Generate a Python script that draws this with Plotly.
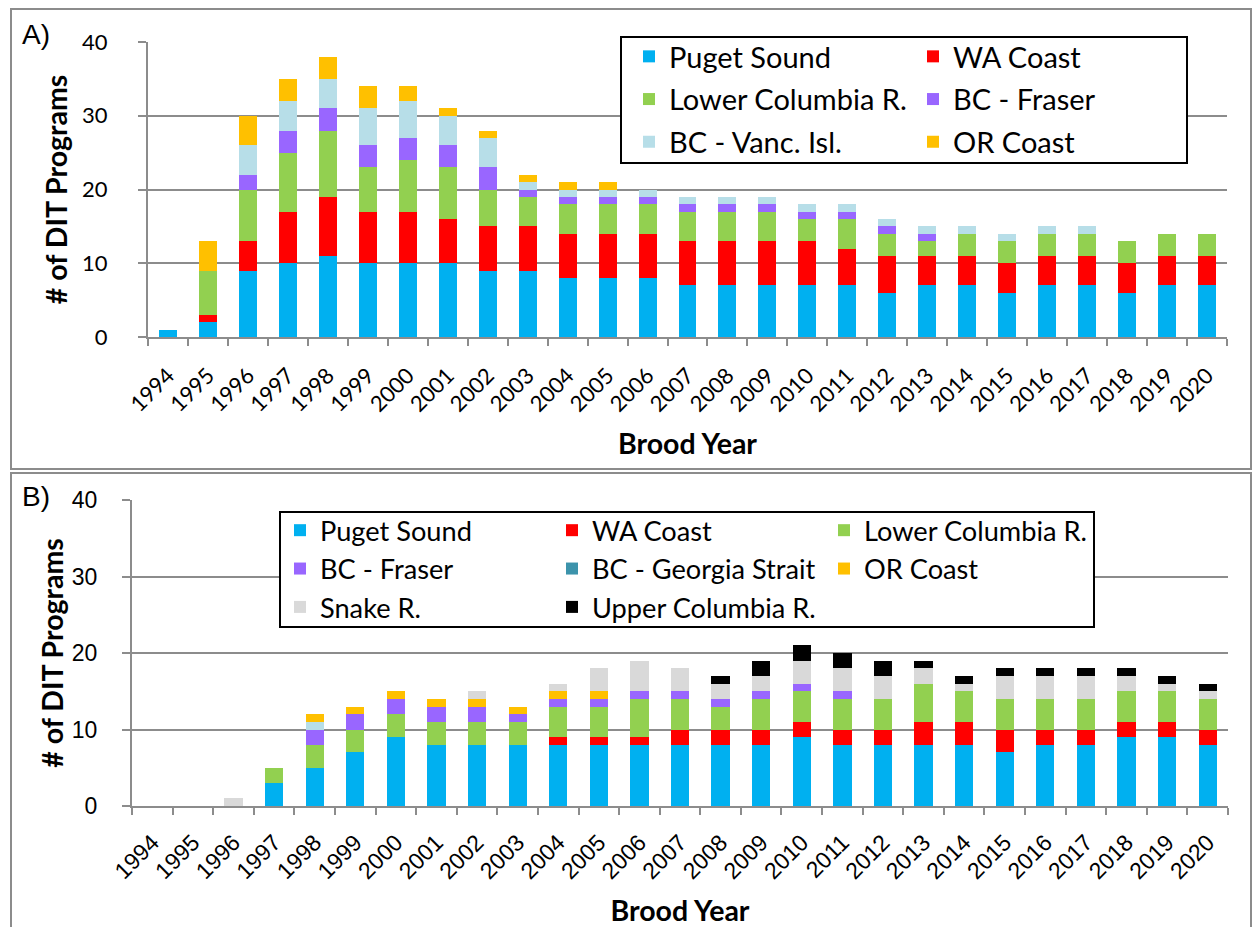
import plotly.graph_objects as go

years = [str(y) for y in range(1994, 2021)]

# Panel A values
A_puget = [1, 2, 9, 10, 11, 10, 10, 10, 9, 9, 8, 8, 8, 7, 7, 7, 7, 7, 6, 7, 7, 6, 7, 7, 6, 7, 7]
A_wa    = [0, 1, 4, 7, 8, 7, 7, 6, 6, 6, 6, 6, 6, 6, 6, 6, 6, 5, 5, 4, 4, 4, 4, 4, 4, 4, 4]
A_lc    = [0, 6, 7, 8, 9, 6, 7, 7, 5, 4, 4, 4, 4, 4, 4, 4, 3, 4, 3, 2, 3, 3, 3, 3, 3, 3, 3]
A_bcf   = [0, 0, 2, 3, 3, 3, 3, 3, 3, 1, 1, 1, 1, 1, 1, 1, 1, 1, 1, 1, 0, 0, 0, 0, 0, 0, 0]
A_vi    = [0, 0, 4, 4, 4, 5, 5, 4, 4, 1, 1, 1, 1, 1, 1, 1, 1, 1, 1, 1, 1, 1, 1, 1, 0, 0, 0]
A_or    = [0, 4, 4, 3, 3, 3, 2, 1, 1, 1, 1, 1, 0, 0, 0, 0, 0, 0, 0, 0, 0, 0, 0, 0, 0, 0, 0]

# Panel B values
B_puget = [0, 0, 0, 3, 5, 7, 9, 8, 8, 8, 8, 8, 8, 8, 8, 8, 9, 8, 8, 8, 8, 7, 8, 8, 9, 9, 8]
B_wa    = [0, 0, 0, 0, 0, 0, 0, 0, 0, 0, 1, 1, 1, 2, 2, 2, 2, 2, 2, 3, 3, 3, 2, 2, 2, 2, 2]
B_lc    = [0, 0, 0, 2, 3, 3, 3, 3, 3, 3, 4, 4, 5, 4, 3, 4, 4, 4, 4, 5, 4, 4, 4, 4, 4, 4, 4]
B_bcf   = [0, 0, 0, 0, 2, 2, 2, 2, 2, 1, 1, 1, 1, 1, 1, 1, 1, 1, 0, 0, 0, 0, 0, 0, 0, 0, 0]
B_vi    = [0, 0, 0, 0, 1, 0, 0, 0, 0, 0, 0, 0, 0, 0, 0, 0, 0, 0, 0, 0, 0, 0, 0, 0, 0, 0, 0]
B_gs    = [0, 0, 0, 0, 0, 0, 0, 0, 0, 0, 0, 0, 0, 0, 0, 0, 0, 0, 0, 0, 0, 0, 0, 0, 0, 0, 0]
B_or    = [0, 0, 0, 0, 1, 1, 1, 1, 1, 1, 1, 1, 0, 0, 0, 0, 0, 0, 0, 0, 0, 0, 0, 0, 0, 0, 0]
B_snake = [0, 0, 1, 0, 0, 0, 0, 0, 1, 0, 1, 3, 4, 3, 2, 2, 3, 3, 3, 2, 1, 3, 3, 3, 2, 1, 1]
B_uc    = [0, 0, 0, 0, 0, 0, 0, 0, 0, 0, 0, 0, 0, 0, 1, 2, 2, 2, 2, 1, 1, 1, 1, 1, 1, 1, 1]

C_PUGET = "#00B0F0"
C_WA = "#FF0000"
C_LC = "#92D050"
C_BCF = "#9966FF"
C_VI = "#B7DEE8"
C_OR = "#FFC000"
C_GS = "#3C93AB"
C_SNAKE = "#D9D9D9"
C_UC = "#000000"

W, H = 1254, 927
def px(x):
    return x / W
def py(y):
    return 1 - y / H

fig = go.Figure()

def add(name, vals, color, xa, ya, legend, group, show=True):
    fig.add_trace(go.Bar(
        x=years, y=vals, name=name, marker=dict(color=color, line=dict(width=0)),
        xaxis=xa, yaxis=ya, legend=legend, legendgroup=group, showlegend=show,
    ))

# Panel A
add("Puget Sound", A_puget, C_PUGET, "x", "y", "legend", "a1")
add("WA Coast", A_wa, C_WA, "x", "y", "legend2", "a2")
add("Lower Columbia R.", A_lc, C_LC, "x", "y", "legend", "a3")
add("BC - Fraser", A_bcf, C_BCF, "x", "y", "legend2", "a4")
add("BC - Vanc. Isl.", A_vi, C_VI, "x", "y", "legend", "a5")
add("OR Coast", A_or, C_OR, "x", "y", "legend2", "a6")

# Panel B
add("Puget Sound", B_puget, C_PUGET, "x2", "y2", "legend3", "b1")
add("WA Coast", B_wa, C_WA, "x2", "y2", "legend4", "b2")
add("Lower Columbia R.", B_lc, C_LC, "x2", "y2", "legend5", "b3")
add("BC - Fraser", B_bcf, C_BCF, "x2", "y2", "legend3", "b4")
add("BC - Vanc. Isl.", B_vi, C_VI, "x2", "y2", "legend3", "b9", show=False)
add("BC - Georgia Strait", B_gs, C_GS, "x2", "y2", "legend4", "b5")
add("OR Coast", B_or, C_OR, "x2", "y2", "legend5", "b6")
add("Snake R.", B_snake, C_SNAKE, "x2", "y2", "legend3", "b7")
add("Upper Columbia R.", B_uc, C_UC, "x2", "y2", "legend4", "b8")

GRID = "#8C8C8C"
TICKA = dict(family="Lato", size=22, color="#000000")
TICKB = dict(family="Liberation Sans", size=23, color="#000000")
TITLEF = dict(family="Lato", size=28.5, color="#000000")

def xaxis(domain, anchor, tfont, standoff, lstand):
    return dict(domain=domain, anchor=anchor, type="category", categoryorder="array",
                categoryarray=years, tickangle=-45, tickfont=tfont, automargin=False,
                showline=True, linecolor=GRID, linewidth=2, ticks="outside",
                tickson="boundaries", ticklen=7, tickcolor=GRID, tickwidth=2,
                showgrid=False, zeroline=False, ticklabelstandoff=lstand,
                title=dict(text="<b>Brood Year</b>", font=TITLEF, standoff=standoff))

def yaxis(domain, anchor, tfont, standoff, lstand):
    return dict(domain=domain, anchor=anchor, range=[0, 40], dtick=10, tick0=0,
                tickfont=tfont, showline=True, linecolor=GRID, linewidth=2, automargin=False,
                ticks="outside", ticklen=8, tickcolor=GRID, tickwidth=2,
                showgrid=True, gridcolor=GRID, gridwidth=2, zeroline=False,
                ticklabelstandoff=lstand,
                title=dict(text="<b># of DIT Programs</b>", font=TITLEF, standoff=standoff))

LEGA = dict(family="Lato", size=29, color="#000000")
LEGB = dict(family="Lato", size=27.2, color="#000000")

def leg(x, y, font, gap):
    return dict(x=px(x), y=py(y), xanchor="left", yanchor="top", xref="paper", yref="paper",
                bgcolor="rgba(0,0,0,0)", borderwidth=0, font=font, orientation="v",
                traceorder="grouped", tracegroupgap=gap, itemwidth=30)

fig.update_layout(
    template="none",
    width=W, height=H, autosize=False,
    margin=dict(l=0, r=0, t=0, b=0, pad=0, autoexpand=False),
    paper_bgcolor="white", plot_bgcolor="white",
    barmode="stack", bargap=0.55,
    xaxis=xaxis([px(148), px(1227)], "y", TICKA, 18, 15),
    yaxis=yaxis([py(337), py(42)], "x", TICKA, 6, 26),
    xaxis2=xaxis([px(132), px(1228)], "y2", TICKB, 18, 12),
    yaxis2=yaxis([py(806), py(500)], "x2", TICKB, 0, 20),
    legend=leg(669 - 40, 31, LEGA, 2),
    legend2=leg(953 - 40, 31, LEGA, 2),
    legend3=leg(320 - 40, 506, LEGB, 0),
    legend4=leg(592 - 40, 506, LEGB, 0),
    legend5=leg(864 - 40, 506, LEGB, 0),
    shapes=[
        dict(type="rect", xref="paper", yref="paper", x0=px(11), x1=px(1251), y0=py(469), y1=py(9),
             line=dict(color=GRID, width=2), layer="below"),
        dict(type="rect", xref="paper", yref="paper", x0=px(11), x1=px(1251), y0=py(935), y1=py(473),
             line=dict(color=GRID, width=2), layer="below"),
        dict(type="rect", xref="paper", yref="paper", x0=px(621), x1=px(1187), y0=py(163), y1=py(37),
             line=dict(color="black", width=2), fillcolor="white", layer="above"),
        dict(type="rect", xref="paper", yref="paper", x0=px(280), x1=px(1094), y0=py(627), y1=py(512),
             line=dict(color="black", width=2), fillcolor="white", layer="above"),
    ],
    annotations=[
        dict(text="A)", x=px(20), y=py(34), xref="paper", yref="paper", xanchor="left", yanchor="middle",
             showarrow=False, font=dict(family="Liberation Sans", size=28, color="black")),
        dict(text="B)", x=px(20), y=py(496), xref="paper", yref="paper", xanchor="left", yanchor="middle",
             showarrow=False, font=dict(family="Liberation Sans", size=28, color="black")),
    ],
)

fig.write_html("out.html", config={"displayModeBar": False},
               post_script="document.body.style.margin='0px';")
